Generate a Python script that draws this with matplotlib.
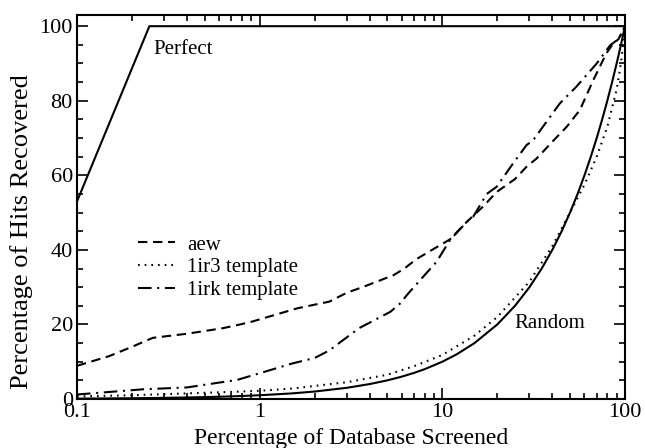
import numpy as np
import matplotlib.pyplot as plt
from matplotlib.ticker import FixedLocator, NullFormatter, MultipleLocator

plt.rcParams['font.family'] = ['Liberation Serif', 'DejaVu Serif']
plt.rcParams['mathtext.fontset'] = 'stix'

# Enrichment curves: % of database screened vs % of hits recovered
aew_x = [0.1, 0.15, 0.2, 0.26, 0.4, 0.63, 0.75, 0.9, 1.2, 1.6, 2.0, 2.4, 3.0, 3.7,
         5.4, 6.2, 7.2, 9.0, 11.0, 13.6, 16.7, 19.8, 25.0, 28.9, 32.8, 40.0, 47.9,
         56.6, 67.0, 79.0, 86.0, 92.0, 100.0]
aew_y = [8.9, 11.5, 14.0, 16.4, 17.5, 19.0, 19.8, 20.7, 22.5, 24.3, 25.3, 26.1, 28.5,
         30.1, 33.2, 35.0, 37.5, 40.3, 42.8, 47.5, 51.6, 55.5, 59.0, 62.3, 64.5, 69.0,
         73.0, 77.5, 85.5, 92.7, 95.3, 96.5, 100.0]

ir3_x = [0.1, 0.2, 0.4, 0.7, 1.0, 1.5, 2.0, 3.0, 5.0, 7.0, 10.0, 15.0, 20.0, 30.0,
         40.0, 50.0, 60.0, 70.0, 80.0, 90.0, 95.0, 100.0]
ir3_y = [0.7, 1.0, 1.5, 1.9, 2.2, 2.8, 3.5, 4.5, 6.5, 8.8, 11.8, 17.0, 22.0, 31.5,
         41.0, 50.0, 57.5, 65.0, 73.0, 83.0, 90.0, 100.0]

irk_x = [0.1, 0.23, 0.4, 0.6, 0.75, 1.0, 1.5, 2.0, 2.4, 3.5, 5.2, 5.9, 6.4, 7.5, 9.3,
         11.0, 13.6, 14.8, 17.5, 19.8, 24.4, 28.9, 31.4, 44.0, 54.0, 70.0, 83.0, 93.0,
         100.0]
irk_y = [1.2, 2.6, 3.1, 4.4, 5.1, 6.9, 9.5, 11.0, 13.0, 19.0, 23.4, 25.7, 27.9, 31.7,
         36.8, 42.6, 47.5, 49.0, 55.0, 56.9, 63.2, 68.1, 69.4, 79.3, 83.7, 90.0, 94.9,
         96.7, 100.0]

perfect_x = [0.1, 0.249, 100.0]
perfect_y = [53.0, 100.0, 100.0]

# random selection recovers hits in proportion to the fraction screened
random_pct = [0.1, 0.2, 0.3, 0.5, 0.7, 1, 1.5, 2, 3, 4, 5, 6, 7, 8, 10, 12, 15, 20, 25,
              30, 35, 40, 45, 50, 55, 60, 65, 70, 75, 80, 85, 90, 95, 100]

fig = plt.figure(figsize=(6.45, 4.48), dpi=100)
ax = fig.add_axes([0.1194, 0.1094, 0.8496, 0.8571])

lw = 1.5
ax.plot(perfect_x, perfect_y, color='black', lw=lw)
ax.plot(random_pct, random_pct, color='black', lw=lw)
ax.plot(aew_x, aew_y, color='black', lw=lw, dashes=(4.5, 2.7), label='aew')
ax.plot(ir3_x, ir3_y, color='black', lw=lw, dashes=(0.8, 2.4), label='1ir3 template')
ax.plot(irk_x, irk_y, color='black', lw=lw, dashes=(6.5, 2.7, 1, 2.7), label='1irk template')

ax.text(0.261, 92.5, 'Perfect', fontsize=15, ha='left', va='baseline')
ax.text(24.9, 19.0, 'Random', fontsize=15, ha='left', va='baseline')

ax.set_xscale('log')
ax.set_xlim(0.1, 100)
ax.set_ylim(0, 103)
ax.set_xticks([0.1, 1, 10, 100])
ax.set_xticklabels(['0.1', '1', '10', '100'])
ax.xaxis.set_minor_locator(FixedLocator(
    [m * 10.0 ** e for e in (-1, 0, 1) for m in range(2, 10)]))
ax.xaxis.set_minor_formatter(NullFormatter())
ax.yaxis.set_major_locator(MultipleLocator(20))
ax.yaxis.set_minor_locator(MultipleLocator(5))

ax.tick_params(which='both', direction='in', top=True, right=True, labelsize=16,
               width=1.2, colors='black')
ax.tick_params(which='major', length=8, pad=3)
ax.tick_params(which='minor', length=4)
for s in ax.spines.values():
    s.set_linewidth(1.5)

ax.set_xlabel('Percentage of Database Screened', fontsize=17)
ax.set_ylabel('Percentage of Hits Recovered', fontsize=19)
ax.xaxis.set_label_coords(0.5, -0.075, transform=ax.transAxes)
ax.yaxis.set_label_coords(-0.08, 0.436, transform=ax.transAxes)
ax.xaxis.label.set_va('top')

ax.legend(loc='upper left', bbox_to_anchor=(0.111, 0.427), frameon=False, fontsize=15,
          handlelength=1.8, handletextpad=0.58, labelspacing=0.15, borderpad=0,
          borderaxespad=0)

fig.savefig('out.png', dpi=100)
